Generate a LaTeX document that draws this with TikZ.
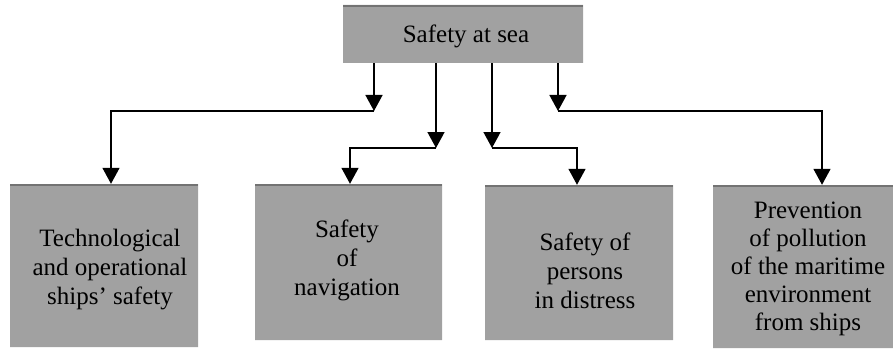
\documentclass[tikz,border=0pt]{standalone}
\usepackage{fontspec}
\setmainfont{Liberation Serif}
\newfontfamily\capfont{Liberation Serif}
\usetikzlibrary{arrows.meta,shapes.misc}
\definecolor{boxgray}{gray}{0.63}
\definecolor{bevelgray}{gray}{0.45}
\begin{document}
\begin{tikzpicture}[x=1pt,y=-1pt,
  panel/.style={chamfered rectangle,
    chamfered rectangle corners={north east,south west},
    chamfered rectangle xsep=4pt, chamfered rectangle ysep=4pt,
    inner sep=0pt, fill=boxgray, draw=none,
    path picture={\fill[bevelgray] (path picture bounding box.north west)
      rectangle ([yshift=-2pt]path picture bounding box.north east);}},
  lbl/.style={font=\capfont\fontsize{25}{29}\selectfont, align=center, inner sep=0pt},
  arr/.style={line width=1.5pt, -{Triangle[width=17pt,length=16pt]}}]
\clip (0,0) rectangle (893,350);
\useasboundingbox (0,0) rectangle (893,350);

% panels
\node[panel, minimum width=240pt, minimum height=58pt] (top) at (463,34) {};
\node[panel, minimum width=188pt, minimum height=163pt] (b1) at (104,265.5) {};
\node[panel, minimum width=187pt, minimum height=156pt] (b2) at (348.5,262) {};
\node[panel, minimum width=188pt, minimum height=155pt] (b3) at (579,262.5) {};
\node[panel, minimum width=184pt, minimum height=163pt] (b4) at (805,266.5) {};

% captions
\node[lbl] (ttop) at (466,36) {Safety at sea};
\node[lbl] (t1) at (110,270) {Technological\\and operational\\ships’ safety};
\node[lbl] (t2) at (347,260) {Safety\\of\\navigation};
\node[lbl] (t3) at (585,271) {Safety of\\persons\\in distress};
\node[lbl, font=\capfont\fontsize{25}{28}\selectfont] (t4) at (808,269)
  {Prevention\\of pollution\\of the maritime\\environment\\from ships};

% branch points and drop lines
\coordinate (j1) at (374,111);
\coordinate (j2) at (436,148);
\coordinate (j3) at (492,148);
\coordinate (j4) at (558,111);
\coordinate (d1) at (111,0);
\coordinate (d2) at (350,0);
\coordinate (d3) at (577,0);
\coordinate (d4) at (822,0);

% connectors
\draw[arr] (top.south -| j1) -- (j1);
\draw[arr] (top.south -| j2) -- (j2);
\draw[arr] (top.south -| j3) -- (j3);
\draw[arr] (top.south -| j4) -- (j4);
\draw[arr] (j1) -| (d1 |- b1.north);
\draw[arr] (j2) -| (d2 |- b2.north);
\draw[arr] (j3) -| (d3 |- b3.north);
\draw[arr] (j4) -| (d4 |- b4.north);
\end{tikzpicture}
\end{document}
